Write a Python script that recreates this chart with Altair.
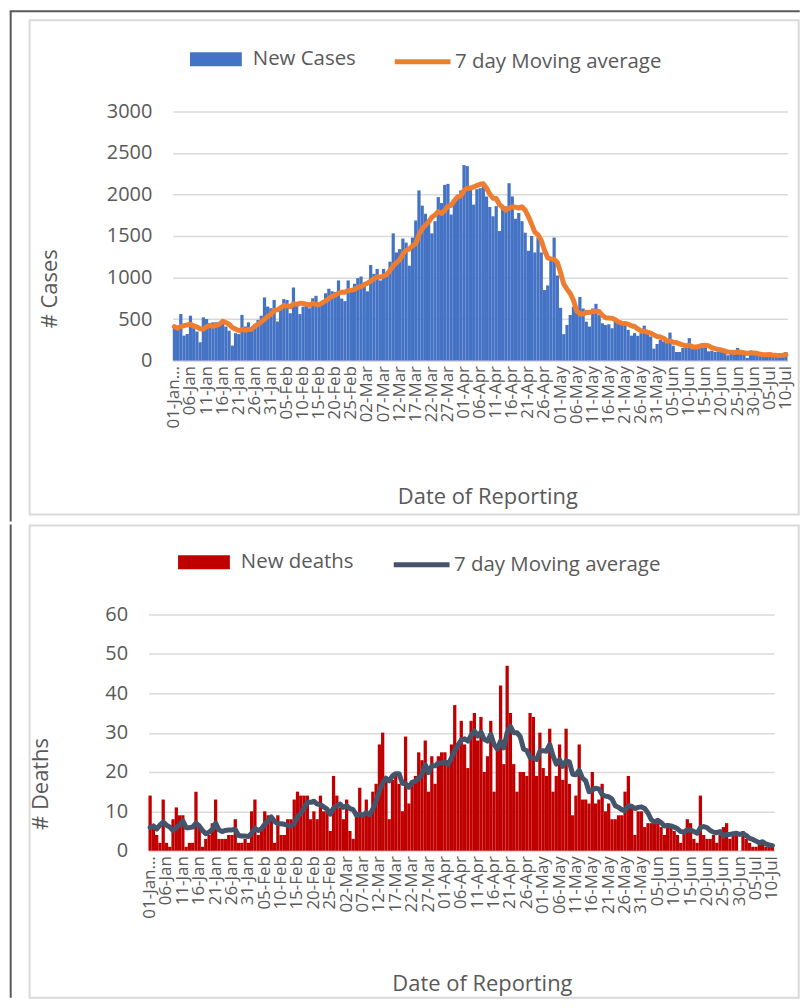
import altair as alt
import pandas as pd

# ---------------- data ----------------
dates = pd.date_range("2021-01-01", "2021-07-10", freq="D").strftime("%d-%b").tolist()
tick_dates = dates[::5]
first_tick_label = "01-Jan..."

new_cases = [
    420, 380, 560, 300, 320, 540, 390, 350, 220, 520, 500, 450, 460, 460, 450, 470,
    410, 360, 180, 330, 320, 550, 410, 460, 390, 430, 490, 540, 760, 650, 630, 730,
    470, 660, 740, 730, 570, 880, 690, 560, 650, 670, 630, 750, 780, 670, 720, 810,
    865, 834, 826, 965, 746, 715, 965, 865, 925, 993, 1012, 925, 834, 1151, 1044, 1104,
    965, 1104, 1044, 1191, 1532, 1302, 1342, 1469, 1421, 1143, 1481, 1687, 2049, 1866, 1767, 1699,
    1532, 1679, 1969, 1898, 2116, 2128, 1759, 1937, 1985, 2049, 2354, 2342, 2096, 1878, 2064, 2076,
    2100, 1977, 1850, 1738, 1860, 1560, 1838, 1858, 2136, 1977, 1707, 1778, 1679, 1540, 1322, 1501,
    1302, 1481, 1302, 850, 905, 1223, 1481, 1024, 635, 318, 429, 548, 647, 588, 766, 627,
    468, 409, 627, 683, 548, 449, 429, 437, 389, 508, 488, 449, 429, 369,
    300, 330, 298, 330, 421, 349, 290, 143, 199, 250, 230, 210, 337, 179, 103, 103,
    151, 151, 270, 190, 170, 160, 180, 160, 111, 119, 103, 111, 103, 99, 64, 111,
    87, 151, 79, 71, 32, 119, 91, 71, 64, 48, 64, 56, 64, 71, 64, 79, 103,
]

new_deaths = [
    14, 6, 4, 2, 13, 2, 1, 8, 11, 9, 9, 1, 2, 2, 15, 6, 1, 3, 4, 7, 13, 3, 3, 3,
    4, 4, 8, 2, 2, 3, 2, 10, 13, 4, 5, 10, 9, 9, 2, 9, 4, 4, 8, 8, 13, 15, 14, 14,
    14, 8, 10, 8, 14, 10, 10, 5, 19, 14, 11, 8, 13, 5, 3, 9, 16, 9, 13, 9, 15, 17, 27, 30,
    18, 8, 18, 19, 17, 10, 29, 12, 17, 19, 25, 23, 28, 15, 24, 17, 24, 25, 25, 23, 27, 37,
    27, 33, 27,
    21, 33, 35, 28, 34, 20, 24, 33, 15, 27, 42, 22, 47, 35, 22, 15, 20, 20, 19, 35, 34, 19,
    30, 21, 19, 31, 15, 19, 27, 18, 31, 17, 9, 14, 27, 13, 13, 12, 20, 12, 13, 17, 10, 12,
    8, 8, 9, 9, 15,
    19, 11, 4, 10, 10, 6, 7, 7, 7, 7, 6, 4, 7, 6, 5, 4, 2, 5, 8, 7, 3, 2, 14, 4, 3, 3, 4,
    2, 4, 6, 7, 3, 4, 5, 0, 5, 3, 2, 1, 1, 2, 2, 1, 1, 1,
]

# moving-average values of the first six days
cases_ma_first = [409, 389, 409, 420, 429, 437]
deaths_ma_first = [5.9, 6.3, 5.5, 6.5, 7.3, 6.5]

assert len(dates) == len(new_cases) == len(new_deaths) == 191

n = len(dates)
df = pd.DataFrame({
    "day": list(range(n)),
    "date": dates,
    "cases": new_cases,
    "deaths": new_deaths,
    "cases_first": cases_ma_first + [None] * (n - 6),
    "deaths_first": deaths_ma_first + [None] * (n - 6),
})
decor_df = pd.DataFrame({"k": [0]})

GRID = "#D9D9D9"
TXT = "#595959"
DARK = "#595959"
FONT = "Open Sans"
RECT_PATH = "M-1,-0.27L1,-0.27L1,0.27L-1,0.27Z"
VIEW_X = 147.3  # page x of the view origin, shared by both panels


def panel(field, first_field, bar_name, bar_color, line_color, y_title, y_max, y_step,
          plot_left, plot_right, oy, h, ytitle_c, xtitle_c, leg1_x, leg_y, leg2_x,
          border_y0, border_y1, dark_y0, dark_y1, top_line):
    # all positional arguments are page coordinates
    def rx(px):
        return px - VIEW_X

    def ry(py):
        return py - oy

    w = plot_right - VIEW_X
    x_enc = alt.X(
        "date:O", sort=None,
        scale=alt.Scale(paddingInner=0, paddingOuter=0,
                        range=[rx(plot_left), rx(plot_right)]),
        axis=alt.Axis(
            values=tick_dates,
            labelExpr=f"datum.value == '{dates[0]}' ? '{first_tick_label}' : datum.value",
            labelAngle=270, labelPadding=5, labelFontSize=17, labelColor=TXT,
            labelFont=FONT, labelOverlap=False, ticks=False, grid=False,
            domain=True, domainColor=GRID, domainWidth=1.5,
            title="Date of Reporting", titleFont=FONT, titleFontSize=22,
            titleFontWeight="normal", titleColor=TXT, titleAngle=0,
            titleAlign="center", titleBaseline="middle",
            titleX=rx(xtitle_c[0]), titleY=xtitle_c[1] - (oy + h),
        ),
    )
    y_scale = alt.Scale(domain=[0, y_max], nice=False)
    y_axis = alt.Axis(
        values=list(range(0, y_max + 1, y_step)), format="d", grid=True, gridColor=GRID,
        gridWidth=1.5, domain=False, ticks=False, labelPadding=21,
        offset=-(plot_left - VIEW_X),
        labelFontSize=20, labelColor=TXT, labelFont=FONT,
        title=y_title, titleFont=FONT, titleFontSize=22, titleFontWeight="normal",
        titleColor=TXT, titleAngle=270, titleAlign="center", titleBaseline="middle",
        titleX=ytitle_c[0] - plot_left, titleY=ry(ytitle_c[1]),
    )

    bars = alt.Chart(df).transform_calculate(
        series=f"'{bar_name}'"
    ).mark_bar().encode(
        x=x_enc,
        y=alt.Y(f"{field}:Q", scale=y_scale, axis=y_axis),
        fill=alt.Fill(
            "series:N",
            scale=alt.Scale(domain=[bar_name], range=[bar_color]),
            legend=alt.Legend(
                title=None, orient="none", legendX=rx(leg1_x), legendY=ry(leg_y) - 26,
                symbolType=RECT_PATH, symbolSize=52 * 52, symbolStrokeWidth=0,
                labelFont=FONT, labelFontSize=20.5, labelColor=TXT, labelOffset=11,
                labelLimit=0, padding=0,
            ),
        ),
    )

    line = alt.Chart(df).transform_window(
        ma_win=f"mean({field})", frame=[-6, 0], sort=[{"field": "day"}]
    ).transform_calculate(
        ma=f"isValid(datum.{first_field}) ? datum.{first_field} : datum.ma_win",
        series2="'7 day Moving average'",
    ).mark_line(strokeWidth=5, strokeCap="round", strokeJoin="round").encode(
        x=x_enc,
        y=alt.Y("ma:Q", scale=y_scale, axis=y_axis),
        stroke=alt.Stroke(
            "series2:N",
            scale=alt.Scale(domain=["7 day Moving average"], range=[line_color]),
            legend=alt.Legend(
                title=None, orient="none", legendX=rx(leg2_x), legendY=ry(leg_y) - 28,
                symbolType="stroke", symbolSize=56 * 56, symbolStrokeWidth=5,
                labelFont=FONT, labelFontSize=20.5, labelColor=TXT, labelOffset=2,
                labelLimit=0, padding=0,
            ),
        ),
    )

    border = alt.Chart(decor_df).mark_rect(
        fillOpacity=0, stroke=GRID, strokeWidth=2
    ).encode(
        x=alt.value(rx(28)), x2=alt.value(rx(800)),
        y=alt.value(ry(border_y0)), y2=alt.value(ry(border_y1)),
    )
    dark_left = alt.Chart(decor_df).mark_rule(color=DARK, strokeWidth=2).encode(
        x=alt.value(rx(9)), y=alt.value(ry(dark_y0)), y2=alt.value(ry(dark_y1)),
    )
    layers = [border, bars, line, dark_left]
    if top_line:
        dark_top = alt.Chart(decor_df).mark_rule(color=DARK, strokeWidth=2).encode(
            x=alt.value(rx(8)), x2=alt.value(rx(801)), y=alt.value(ry(9)),
        )
        layers.append(dark_top)
    return alt.layer(*layers).properties(width=w, height=h)


top = panel("cases", "cases_first", "New Cases", "#4472C4", "#ED7D31", "# Cases", 3000, 500,
            plot_left=171.7, plot_right=788.7, oy=109.5, h=250,
            ytitle_c=(48, 287), xtitle_c=(487.5, 496),
            leg1_x=189, leg_y=57, leg2_x=392,
            border_y0=18, border_y1=514, dark_y0=9, dark_y1=521, top_line=True)

bottom = panel("deaths", "deaths_first", "New deaths", "#C00000", "#44546A", "# Deaths", 60, 10,
               plot_left=147.3, plot_right=775.3, oy=611.5, h=237,
               ytitle_c=(39, 781), xtitle_c=(482, 982),
               leg1_x=177, leg_y=559, leg2_x=391,
               border_y0=522, border_y1=996, dark_y0=521, dark_y1=996, top_line=False)

chart = alt.vconcat(top, bottom, spacing=0).resolve_scale(
    fill="independent", stroke="independent", x="independent", y="independent"
).resolve_legend(
    fill="independent", stroke="independent"
).properties(
    padding=0, background="white"
).configure_view(stroke=None)

chart.save("out.html", embed_options={"renderer": "svg", "actions": False})
